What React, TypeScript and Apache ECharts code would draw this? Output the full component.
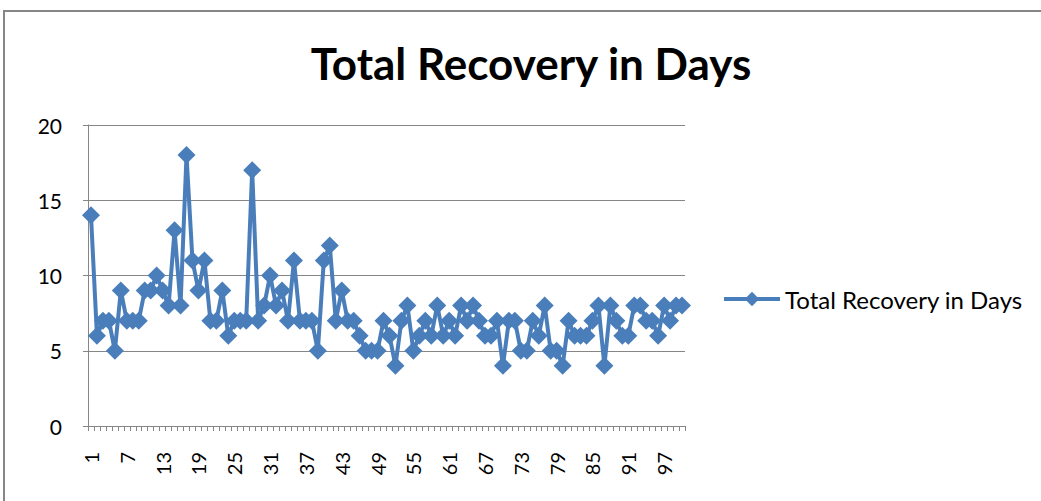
import React, { useEffect, useRef } from "react";
import * as echarts from "echarts";

const TITLE = "Total Recovery in Days";
const SERIES_NAME = "Total Recovery in Days";
const CATEGORIES: string[] = Array.from({ length: 100 }, (_, i) => String(i + 1));
const VALUES: number[] = [
  14, 6, 7, 7, 5, 9, 7, 7, 7, 9,
  9, 10, 9, 8, 13, 8, 18, 11, 9, 11,
  7, 7, 9, 6, 7, 7, 7, 17, 7, 8,
  10, 8, 9, 7, 11, 7, 7, 7, 5, 11,
  12, 7, 9, 7, 7, 6, 5, 5, 5, 7,
  6, 4, 7, 8, 5, 6, 7, 6, 8, 6,
  7, 6, 8, 7, 8, 7, 6, 6, 7, 4,
  7, 7, 5, 5, 7, 6, 8, 5, 5, 4,
  7, 6, 6, 6, 7, 8, 4, 8, 7, 6,
  6, 8, 8, 7, 7, 6, 8, 7, 8, 8,
];
const Y_MIN = 0;
const Y_MAX = 20;
const Y_STEP = 5;

const FONT = "Lato, 'Open Sans', sans-serif";
const BLUE = "#4A7EBB";
const GRAY = "#868686";

export default function App() {
  const ref = useRef<HTMLDivElement>(null);
  useEffect(() => {
    if (!ref.current) return;
    const chart = echarts.init(ref.current, undefined, { renderer: "svg" });
    chart.setOption({
      animation: false,
      backgroundColor: "#ffffff",
      textStyle: { fontFamily: FONT },
      graphic: [
        {
          type: "rect",
          shape: { x: 4, y: 11, width: 1100, height: 600 },
          style: { fill: "none", stroke: GRAY, lineWidth: 2 },
          silent: true,
        },
        {
          type: "text",
          x: 531,
          y: 63,
          style: {
            text: TITLE,
            fontFamily: FONT,
            fontWeight: "bold",
            fontSize: 44,
            fill: "#000",
            textAlign: "center",
            textVerticalAlign: "middle",
          },
        },
      ],
      legend: {
        left: 722,
        top: 287,
        padding: 0,
        itemWidth: 56,
        itemHeight: 18,
        itemGap: 6,
        lineStyle: { width: 4 },
        textStyle: { fontFamily: FONT, fontSize: 24, color: "#000" },
        data: [SERIES_NAME],
      },
      grid: { left: 88, top: 125, width: 597, height: 301, containLabel: false },
      xAxis: {
        type: "category",
        data: CATEGORIES,
        boundaryGap: true,
        axisLine: { show: true, lineStyle: { color: GRAY, width: 1 } },
        axisTick: { show: true, interval: 0, length: 5, lineStyle: { color: GRAY } },
        axisLabel: {
          interval: 5,
          rotate: 90,
          margin: 26,
          fontSize: 20,
          color: "#000",
          fontFamily: FONT,
        },
        splitLine: { show: false },
      },
      yAxis: {
        type: "value",
        min: Y_MIN,
        max: Y_MAX,
        interval: Y_STEP,
        axisLine: { show: true, lineStyle: { color: GRAY, width: 1 } },
        axisTick: { show: true, length: 5, lineStyle: { color: GRAY } },
        axisLabel: { fontSize: 21, color: "#000", margin: 26, fontFamily: FONT },
        splitLine: { show: true, lineStyle: { color: GRAY, width: 1 } },
      },
      series: [
        {
          name: SERIES_NAME,
          type: "line",
          data: VALUES,
          symbol: "diamond",
          symbolSize: 18,
          showAllSymbol: true,
          itemStyle: { color: BLUE },
          lineStyle: { color: BLUE, width: 4 },
        },
      ],
    });
    return () => chart.dispose();
  }, []);
  return (
    <div
      ref={ref}
      style={{ position: "fixed", left: 0, top: 0, width: 1041, height: 501 }}
    />
  );
}
